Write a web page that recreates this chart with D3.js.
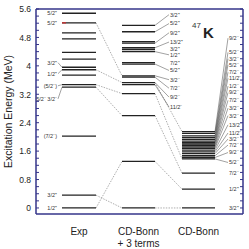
<!DOCTYPE html>
<html>
<head>
<meta charset="utf-8">
<script src="https://cdn.jsdelivr.net/npm/d3@7"></script>
<style>
  body { margin: 0; background: #fff; }
  svg { display: block; font-family: "Liberation Sans", Arial, sans-serif; }
</style>
</head>
<body>
<div id="chart"></div>
<script>
// levels in MeV
const expLevels = [0, 0.36, 2.02, 3.40, 3.47, 3.74, 3.89, 3.96, 4.19, 4.38, 4.76, 4.93, 5.21, 5.48]
const expLabels = ['1/2⁺', '3/2⁺', '(7/2⁻)', '5/2⁻ 3/2⁻', '(5/2⁻)', '', '1/2⁺', '3/2⁺', '', '', '', '', '5/2⁺', '5/2⁺']
const expLabelE = [0, 0.36, 2.02, 3.07, 3.44, null, 3.78, 4.09, null, null, null, null, 5.21, 5.48]

const midLevels = [0, 1.31, 2.60, 3.22, 3.47, 3.53, 3.68, 3.72, 4.05, 4.09, 4.40, 4.46, 4.51, 4.64, 4.68, 4.96, 5.14]
const midLabels = ['', '', '', '', '11/2⁻', '9/2⁻', '7/2⁻', '3/2⁻', '5/2⁺', '7/2⁺', '1/2⁺', '3/2⁺', '13/2⁺', '9/2⁺', '', '5/2⁺', '3/2⁺']
const midLabelE = [null, null, null, null, 2.84, 3.12, 3.37, 3.61, 3.87, 4.07, 4.31, 4.48, 4.67, 4.93, null, 5.19, 5.44]

const cdLevels = [0, 0.53, 0.98, 1.38, 1.42, 1.47, 1.53, 1.58, 1.63, 1.68, 1.72, 1.76, 1.80, 1.84, 1.88, 1.93, 1.98, 2.03, 2.10, 2.15]
const cdLabels = ['3/2⁺', '1/2⁺', '7/2⁻', '5/2⁻', '9/2⁻', '7/2⁻', '3/2⁻', '11/2⁻', '13/2⁻', '3/2⁻', '3/2⁻', '7/2⁻', '9/2⁻', '1/2⁻', '11/2⁻', '7/2⁻', '5/2⁻', '3/2⁻', '5/2⁻', '9/2⁻']
const cdLabelE = [0, 0.53, 0.98, 1.28, 1.56, 1.77, 1.94, 2.11, 2.34, 2.6, 2.81, 3.03, 3.25, 3.43, 3.65, 3.82, 4.03, 4.2, 4.38, 4.78]

// dashed links between columns: [from energy, to energy]
const expToMid = [[0, 1.31], [0.36, 0], [3.40, 2.60], [3.47, 3.22], [3.89, 3.53], [5.21, 3.72]]
const midToCd = [[0, 0], [1.31, 0.53], [2.60, 0.98], [3.22, 1.38], [3.53, 2.15]]

const columns = ['Exp', 'CD-Bonn|+ 3 terms', 'CD-Bonn']

const canvasWidth = 249
const canvasHeight = 249
const frame = {left: 36, right: 243, top: 9, bottom: 214}
const axisColor = '#34348a'

const yScale = d3.scaleLinear().domain([-0.17, 5.6]).range([frame.bottom, frame.top])
const colX = [{x0: 62, x1: 96}, {x0: 122, x1: 155}, {x0: 182, x1: 215}]

const svg = d3.select('#chart')
  .append('svg')
  .attr('width', canvasWidth)
  .attr('height', canvasHeight)

// dashed connectors
const drawLinks = (links, from, to) => {
  svg.append('g')
    .selectAll('line')
    .data(links)
    .enter()
    .append('line')
    .attr('x1', from.x1)
    .attr('x2', to.x0)
    .attr('y1', d => yScale(d[0]))
    .attr('y2', d => yScale(d[1]))
    .attr('stroke', '#777')
    .attr('stroke-width', 0.6)
    .attr('stroke-dasharray', '1.5,1.2')
}
drawLinks(expToMid, colX[0], colX[1])
drawLinks(midToCd, colX[1], colX[2])

// level lines
const drawLevels = (levels, col) => {
  svg.append('g')
    .selectAll('line')
    .data(levels)
    .enter()
    .append('line')
    .attr('x1', col.x0)
    .attr('x2', col.x1)
    .attr('y1', d => yScale(d))
    .attr('y2', d => yScale(d))
    .attr('stroke', '#222')
    .attr('stroke-width', 1.3)
}
drawLevels(expLevels, colX[0])
drawLevels(midLevels, colX[1])
drawLevels(cdLevels, colX[2])

// small red mark on the 5.21 MeV exp level
svg.append('line')
  .attr('x1', colX[0].x0).attr('x2', colX[0].x0 + 4)
  .attr('y1', yScale(expLevels[12])).attr('y2', yScale(expLevels[12]))
  .attr('stroke', '#d03030').attr('stroke-width', 1.3)

// spin labels with leader lines
const drawLabels = (levels, labels, labelE, side, lineX, textX) => {
  const g = svg.append('g')
  levels.forEach((e, i) => {
    if (!labels[i]) return
    const ly = yScale(labelE[i])
    if (Math.abs(labelE[i] - e) > 0.03) {
      g.append('line')
        .attr('x1', side === 'left' ? textX + 1 : lineX)
        .attr('y1', side === 'left' ? ly : yScale(e))
        .attr('x2', side === 'left' ? lineX : textX - 1)
        .attr('y2', side === 'left' ? yScale(e) : ly)
        .attr('stroke', '#444')
        .attr('stroke-width', 0.5)
    }
    g.append('text')
      .attr('x', textX)
      .attr('y', ly)
      .attr('dy', '0.35em')
      .attr('text-anchor', side === 'left' ? 'end' : 'start')
      .attr('font-size', 5.5)
      .attr('fill', '#333')
      .text(labels[i])
  })
}
drawLabels(expLevels, expLabels, expLabelE, 'left', colX[0].x0, 57)
drawLabels(midLevels, midLabels, midLabelE, 'right', colX[1].x1, 170)
drawLabels(cdLevels, cdLabels, cdLabelE, 'right', colX[2].x1, 229)

// frame and axes
const frameG = svg.append('g').attr('stroke', axisColor).attr('stroke-width', 1.5)
frameG.append('line').attr('x1', frame.left).attr('x2', frame.right).attr('y1', frame.top).attr('y2', frame.top)
frameG.append('line').attr('x1', frame.left).attr('x2', frame.right).attr('y1', frame.bottom).attr('y2', frame.bottom)
frameG.append('line').attr('x1', frame.left).attr('x2', frame.left).attr('y1', frame.top).attr('y2', frame.bottom)
frameG.append('line').attr('x1', frame.right).attr('x2', frame.right).attr('y1', frame.top).attr('y2', frame.bottom)

const majorTicks = d3.range(0, 5.61, 0.8)
const minorTicks = d3.range(0, 5.61, 0.2)

const leftAxis = d3.axisLeft(yScale).tickValues(majorTicks).tickSize(0).tickPadding(5)
  .tickFormat(d => d3.format('~g')(+d.toFixed(1)))
svg.append('g')
  .attr('transform', `translate(${frame.left}, 0)`)
  .call(leftAxis)
  .call(g => g.select('.domain').remove())
  .call(g => g.selectAll('text').attr('font-size', 8.5).attr('fill', '#222').attr('font-family', '"Liberation Sans", Arial, sans-serif'))

const tickG = svg.append('g').attr('stroke', axisColor).attr('stroke-width', 1)
minorTicks.forEach(t => {
  const y = yScale(t)
  const len = 3
  tickG.append('line').attr('x1', frame.left).attr('x2', frame.left + len).attr('y1', y).attr('y2', y)
  tickG.append('line').attr('x1', frame.right - len).attr('x2', frame.right).attr('y1', y).attr('y2', y)
})

// axis title
svg.append('text')
  .attr('transform', `translate(12, ${(frame.top + frame.bottom) / 2}) rotate(-90)`)
  .attr('text-anchor', 'middle')
  .attr('font-size', 10.5)
  .attr('fill', '#222')
  .text('Excitation Energy (MeV)')

// column names
columns.forEach((name, i) => {
  const cx = (colX[i].x0 + colX[i].x1) / 2
  name.split('|').forEach((part, j) => {
    svg.append('text')
      .attr('x', cx)
      .attr('y', 235 + j * 12)
      .attr('text-anchor', 'middle')
      .attr('font-size', 10)
      .attr('fill', '#222')
      .text(part)
  })
})

// nucleus name
svg.append('text').attr('x', 192).attr('y', 28).attr('font-size', 8).attr('fill', '#333').text('47')
svg.append('text').attr('x', 203).attr('y', 38).attr('font-size', 15).attr('font-weight', 'bold').attr('fill', '#222').text('K')
</script>
</body>
</html>
